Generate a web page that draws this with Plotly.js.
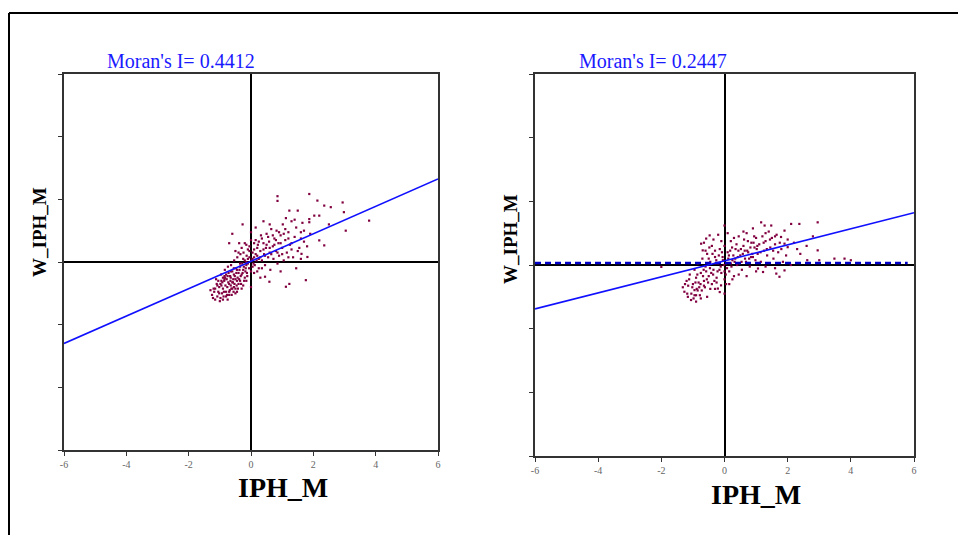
<!DOCTYPE html>
<html>
<head>
<meta charset="utf-8">
<script src="https://cdn.plot.ly/plotly-3.0.1.min.js"></script>
<style>html,body{margin:0;padding:0;background:#fff;}#chart{width:958px;height:535px;}</style>
</head>
<body>
<div id="chart"></div>
<script>
// ---- data ----
const xTickVals = [-6, -4, -2, 0, 2, 4, 6];
const xTickText = ['-6', '-4', '-2', '0', '2', '4', '6'];
const yTickVals = [-6, -4, -2, 0, 2, 4, 6];

const titleLeft = "Moran's I= 0.4412";
const titleRight = "Moran's I= 0.2447";
const xTitle = 'IPH_M';
const yTitle = 'W_IPH_M';

const regX = [-6, 6];
const regYLeft = [-2.6, 2.65];
const regYRight = [-1.38, 1.64];
const dashX = [-6, 5.8];
const dashY = [0.06, 0.06];

const leftX = [
 -1.25,-1.2,-1.15,-1.1,-1.05,-1.0,-0.95,-0.9,-0.88,-0.85,
 -0.82,-0.8,-0.78,-0.75,-0.72,-0.7,-0.68,-0.65,-0.62,-0.6,
 -0.58,-0.55,-0.52,-0.5,-0.48,-0.45,-0.42,-0.4,-0.38,-0.35,
 -0.32,-0.3,-0.28,-0.25,-0.22,-0.2,-0.18,-0.15,-0.12,-0.1,
 -1.3,-1.22,-1.12,-1.02,-0.93,-0.86,-0.76,-0.66,-0.56,-0.46,
 -0.96,-0.84,-0.74,-0.64,-0.54,-0.44,-0.34,-0.24,-0.14,-0.06,
 -1.08,-0.98,-0.9,-0.8,-0.7,-0.6,-0.5,-0.4,-0.3,-0.2,
 -0.6,-0.7,-0.38,-0.27,-0.5,-0.15,-0.05,0.0,0.0,0.0,
 0.05,0.1,0.12,0.15,0.2,0.22,0.25,0.3,0.32,0.35,
 0.4,0.42,0.45,0.48,0.5,0.55,0.58,0.6,0.62,0.65,
 0.7,0.72,0.75,0.8,0.82,0.85,0.88,0.9,0.95,1.0,
 1.02,1.05,1.1,1.12,1.15,1.2,1.23,1.25,1.3,1.35,
 1.4,1.45,1.5,1.55,1.6,1.62,1.65,1.7,1.76,1.81,
 0.85,0.85,1.87,2.13,2.35,2.56,2.94,2.98,3.79,3.04,
 2.35,2.19,2.03,2.19,1.87,1.87,1.12,1.23,0.59,0.45,
 1.9,1.3,0.95,0.3,0.15,0.6,1.6,0.4,2.5,1.05,
 -0.1,0.02,-0.05,0.08,-0.15,0.1,-0.25,0.18,-0.35,0.25,
 -0.45,-0.55,-0.65,-0.75,-0.85,-0.95,-1.05,-1.15,-0.65,-0.55,
 -1.18,-1.08,-0.98,-0.92,-0.87,-0.83,-0.77,-0.73,-0.67,-0.63,
 -0.57,-0.53,-0.47,-0.43,-0.37,-0.33,-0.27,-0.23,-0.17,-0.13,
 -1.02,-0.9,-0.8,-0.7,-0.6,-0.5,-0.45,-0.35,-0.25,-0.15,
 0.05,0.1,0.15,0.2,0.25,0.3,0.35,0.4,0.45,0.5,
 0.55,0.6,0.65,0.7,0.75,0.8,0.85,0.9,0.95,1.0,
 1.1,1.2,1.3,1.4,1.5,1.6,1.7,1.8,1.2,1.45,
 0.05,0.1,-0.05,0.0,-0.1,0.2,0.35,-0.3,-0.4,-0.2
];
const leftY = [
 -1.05,-0.85,-1.2,-0.7,-0.95,-1.25,-0.6,-0.85,-1.1,-0.45,
 -0.75,-0.95,-0.55,-1.2,-0.35,-0.7,-0.9,-0.5,-1.05,-0.3,
 -0.65,-0.8,-0.45,-1.0,-0.2,-0.6,-0.85,-0.35,-0.55,-0.15,
 -0.7,-0.4,-0.05,-0.25,-0.6,0.05,-0.3,-0.1,-0.45,0.1,
 -0.9,-1.15,-0.55,-0.8,-1.0,-0.6,-0.8,-0.6,-0.95,-0.75,
 -0.4,-0.25,-0.15,-0.1,0.05,0.15,0.25,0.3,0.2,-0.2,
 -1.1,-0.7,-0.5,-0.4,-1.05,-0.85,-0.55,-0.7,-0.85,-0.5,
 0.9,0.6,0.6,1.2,0.35,0.55,0.35,0.95,-0.3,-0.8,
 0.1,0.4,-0.1,0.7,0.2,0.55,-0.2,0.35,0.85,0.05,
 0.6,0.25,-0.1,0.45,0.9,0.15,0.65,0.3,-0.25,1.05,
 0.5,0.1,0.75,0.35,1.0,-0.05,0.6,0.2,0.85,0.45,
 1.2,0.05,0.7,1.4,0.3,0.95,1.64,0.55,1.3,0.15,
 0.8,1.1,1.64,0.45,0.95,0.26,1.25,0.65,-0.58,0.16,
 2.1,1.95,2.17,1.96,1.8,1.75,1.9,1.59,1.32,1.0,
 0.53,0.69,1.48,1.48,1.37,1.27,-0.79,-0.7,-0.63,-0.47,
 0.9,0.4,-0.3,-0.5,1.1,1.2,0.1,1.3,1.2,0.9,
 -0.05,0.05,0.15,-0.05,0.0,0.15,0.1,0.05,-0.05,0.1,
 -0.25,-0.2,-0.3,-0.45,-0.55,-0.75,-0.6,-0.85,-0.75,-0.4,
 -0.95,-0.75,-1.15,-0.65,-0.95,-0.5,-1.05,-0.65,-0.45,-0.85,
 -0.55,-0.7,-0.35,-0.5,-0.25,-0.45,-0.35,-0.15,-0.2,-0.35,
 -1.0,-1.2,-1.1,-0.95,-0.65,-0.85,-0.95,-0.6,-0.75,-0.6,
 0.3,0.6,0.25,0.45,0.65,0.15,0.75,0.4,0.2,0.55,
 0.8,0.45,0.25,0.85,0.55,0.7,0.3,0.95,0.6,0.25,
 1.05,0.75,0.6,1.35,0.35,0.75,1.0,0.5,0.15,-0.2,
 -0.15,-0.35,0.5,0.7,0.4,-0.3,-0.2,0.45,0.3,0.6
];

const rightX = [
 2.95,2.11,2.37,1.16,1.27,1.48,1.9,1.79,1.9,2.0,
 2.95,3.0,2.62,3.48,3.8,4.0,0.0,-0.47,-0.58,-0.74,
 -0.69,-1.27,-1.16,-1.06,-0.9,-0.95,-1.32,-0.21,-0.11,1.74,
 1.64,1.9,1.06,1.22,-2.0,-1.2,-1.1,-1.0,-0.95,-0.9,
 -0.85,-0.8,-0.75,-0.7,-0.65,-0.6,-0.55,-0.5,-0.45,-0.4,
 -0.35,-0.3,-0.25,-0.2,-0.15,-0.1,-0.05,0.0,0.0,0.0,
 0.05,0.1,0.15,0.2,0.25,0.3,0.35,0.4,0.45,0.5,
 0.55,0.6,0.65,0.7,0.75,0.8,0.85,0.9,0.95,1.0,
 1.05,1.1,1.15,1.2,1.25,1.3,1.35,1.4,1.45,1.5,
 1.55,1.6,1.65,1.7,1.8,1.85,2.2,2.4,1.95,2.1,
 -1.05,-0.98,-0.88,-0.82,-0.78,-0.72,-0.68,-0.62,-0.58,-0.52,
 -0.48,-0.42,-0.38,-0.32,-0.28,-0.22,-0.18,-0.12,-0.08,-0.02,
 0.08,0.12,0.18,0.22,0.28,0.32,0.38,0.42,0.48,0.52,
 0.58,0.62,0.68,0.72,0.78,0.82,0.88,0.92,0.98,1.02,
 -0.65,-0.35,-0.2,0.1,0.15,-0.3,-0.55,-1.15,-0.9,0.0,
 -1.25,-1.18,-1.12,-1.02,-0.92,-0.86,-0.76,-0.66,-0.56,-0.46,
 -0.36,-0.26,-0.16,-0.06,0.04,0.14,0.24,0.34,0.44,0.54,
 0.64,0.74,0.84,0.94,1.04,1.14,1.24,1.34,1.44,1.54,
 -0.95,-0.85,-0.75,-0.65,-0.45,-0.25,-0.15,0.05,0.25,0.45,
 -0.6,-0.4,-0.1,0.3,0.6,0.9,1.3,1.6,1.75,2.0,
 2.3,2.6,2.8,1.6,1.3,1.0,0.7,-0.5,-0.3,0.2
];
const rightY = [
 1.34,1.29,1.29,1.34,1.24,1.24,1.08,0.88,0.67,0.56,
 0.46,0.15,0.15,0.2,0.2,0.15,1.24,0.93,0.83,0.67,
 0.46,-0.84,-1.0,-1.1,-0.95,-0.79,-0.7,-0.74,-0.64,-0.37,
 -0.27,-0.17,-0.11,-0.22,-0.06,-0.5,-0.3,-0.6,-0.15,-0.4,
 0.05,-0.7,-0.25,0.2,-0.5,-0.05,0.35,-0.35,0.1,-0.6,
 -0.15,0.25,-0.4,0.05,0.5,-0.25,0.15,-0.45,0.6,-0.9,
 0.05,0.4,-0.2,0.75,0.15,-0.35,0.5,0.0,0.9,0.3,
 -0.15,0.6,0.2,1.0,0.4,-0.05,0.7,0.25,0.55,0.85,
 0.35,0.65,0.1,0.9,0.45,0.75,0.3,1.05,0.55,0.85,
 0.2,0.65,0.95,0.4,0.5,0.1,0.7,0.35,0.3,0.0,
 -0.9,-1.05,-0.75,-0.55,-0.95,-0.8,-0.35,-0.7,-0.2,-0.55,
 0.55,-0.25,0.35,-0.5,0.05,-0.2,0.3,-0.05,0.4,0.0,
 -0.1,0.2,0.45,-0.05,0.3,0.1,0.65,0.25,0.05,0.5,
 0.35,0.8,0.1,0.45,0.2,0.55,0.35,0.7,0.15,0.5,
 0.7,0.8,0.95,1.0,-0.6,-0.75,-1.0,-0.65,-1.15,-0.2,
 -0.6,-0.9,-0.45,-0.7,-0.55,-0.3,-0.6,-0.15,-0.45,-0.1,
 -0.3,0.15,-0.15,0.25,-0.3,0.3,0.55,0.2,0.45,0.1,
 0.45,0.75,0.25,0.9,0.6,0.4,0.7,0.5,0.8,0.45,
 -0.95,-0.8,-1.05,-0.65,-0.75,-0.55,-0.85,-0.6,-0.45,-0.3,
 0.45,0.6,0.75,0.85,1.05,1.15,1.0,0.9,0.7,0.8,
 0.5,0.6,0.9,-0.1,-0.05,-0.2,-0.35,0.2,0.45,0.05
];

// ---- styling ----
const W = 958, H = 535;
const serif = 'Liberation Serif, Times New Roman, serif';
const ptColor = 'rgb(128,0,64)';

function xAxis(domain, anchor) {
  return {
    domain: domain, anchor: anchor, range: [-6, 6], showgrid: false,
    zeroline: true, zerolinecolor: '#000', zerolinewidth: 2,
    showline: true, mirror: true, linecolor: '#333', linewidth: 2,
    ticks: 'outside', ticklen: 4, tickwidth: 1, tickcolor: '#333',
    tickmode: 'array', tickvals: xTickVals, ticktext: xTickText,
    tickfont: {family: serif, size: 10, color: '#666'}, fixedrange: true
  };
}
function yAxis(domain, anchor) {
  return {
    domain: domain, anchor: anchor, range: [-6, 6], showgrid: false,
    zeroline: true, zerolinecolor: '#000', zerolinewidth: 2,
    showline: true, mirror: true, linecolor: '#333', linewidth: 2,
    ticks: 'outside', ticklen: 4, tickwidth: 1, tickcolor: '#333',
    tickmode: 'array', tickvals: yTickVals, showticklabels: false, fixedrange: true
  };
}

const traces = [
  {x: leftX, y: leftY, xaxis: 'x', yaxis: 'y', type: 'scatter', mode: 'markers',
   marker: {color: ptColor, size: 2.2, symbol: 'square', line: {width: 0}}, hoverinfo: 'skip'},
  {x: regX, y: regYLeft, xaxis: 'x', yaxis: 'y', type: 'scatter', mode: 'lines',
   line: {color: '#1010ff', width: 1.6}, hoverinfo: 'skip'},
  {x: rightX, y: rightY, xaxis: 'x2', yaxis: 'y2', type: 'scatter', mode: 'markers',
   marker: {color: ptColor, size: 2.2, symbol: 'square', line: {width: 0}}, hoverinfo: 'skip'},
  {x: dashX, y: dashY, xaxis: 'x2', yaxis: 'y2', type: 'scatter', mode: 'lines',
   line: {color: '#0000c8', width: 2.5, dash: '6px,4px'}, hoverinfo: 'skip'},
  {x: regX, y: regYRight, xaxis: 'x2', yaxis: 'y2', type: 'scatter', mode: 'lines',
   line: {color: '#1010ff', width: 1.6}, hoverinfo: 'skip'}
];

const px = v => v / W;
const py = v => 1 - v / H;

const layout = {
  width: W, height: H, margin: {l: 0, r: 0, t: 0, b: 0},
  paper_bgcolor: '#fff', plot_bgcolor: '#fff', showlegend: false,
  xaxis: xAxis([px(64), px(438)], 'y'),
  yaxis: yAxis([py(450), py(74)], 'x'),
  xaxis2: xAxis([px(535), px(914)], 'y2'),
  yaxis2: yAxis([py(456), py(74)], 'x2'),
  shapes: [
    {type: 'line', xref: 'paper', yref: 'paper', x0: px(9), x1: px(9), y0: 0, y1: py(13), line: {color: '#000', width: 2}},
    {type: 'line', xref: 'paper', yref: 'paper', x0: px(9), x1: 1, y0: py(13), y1: py(13), line: {color: '#000', width: 2}}
  ],
  annotations: [
    {text: titleLeft, xref: 'paper', yref: 'paper', x: px(105), y: py(61), xanchor: 'left', yanchor: 'middle',
     showarrow: false, font: {family: serif, size: 20, color: '#1a1aff'}},
    {text: titleRight, xref: 'paper', yref: 'paper', x: px(577), y: py(61), xanchor: 'left', yanchor: 'middle',
     showarrow: false, font: {family: serif, size: 20, color: '#1a1aff'}},
    {text: '<b>' + xTitle + '</b>', xref: 'paper', yref: 'paper', x: px(283), y: py(488), xanchor: 'center', yanchor: 'middle',
     showarrow: false, font: {family: serif, size: 28, color: '#000'}},
    {text: '<b>' + xTitle + '</b>', xref: 'paper', yref: 'paper', x: px(756), y: py(494), xanchor: 'center', yanchor: 'middle',
     showarrow: false, font: {family: serif, size: 28, color: '#000'}},
    {text: '<b>' + yTitle + '</b>', xref: 'paper', yref: 'paper', x: px(39), y: py(232), xanchor: 'center', yanchor: 'middle',
     textangle: -90, showarrow: false, font: {family: serif, size: 19, color: '#000'}},
    {text: '<b>' + yTitle + '</b>', xref: 'paper', yref: 'paper', x: px(510), y: py(239), xanchor: 'center', yanchor: 'middle',
     textangle: -90, showarrow: false, font: {family: serif, size: 19, color: '#000'}}
  ]
};

Plotly.newPlot('chart', traces, layout, {displayModeBar: false, staticPlot: true});
</script>
</body>
</html>
